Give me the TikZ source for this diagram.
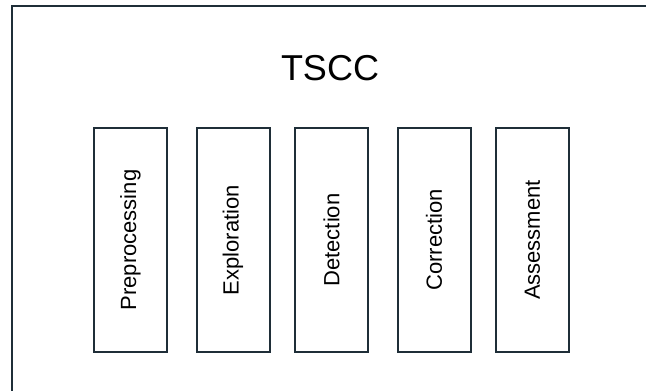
\documentclass[tikz,border=0pt]{standalone}
\usepackage{fontspec}
\setmainfont{Liberation Sans}
\definecolor{edge}{HTML}{1F2E38}
\begin{document}
\begin{tikzpicture}[x=1pt,y=-1pt,
  stagebox/.style={draw=edge,line width=2pt,minimum width=73pt,minimum height=224pt,inner sep=0pt},
  stagelabel/.style={rotate=90,font=\fontsize{22}{26}\selectfont,text=black}]
\useasboundingbox (0,0) rectangle (646,391);
\fill[white] (0,0) rectangle (646,391);
\coordinate (fbl) at (12,392);
\coordinate (ftl) at (12,6);
\coordinate (ftr) at (647,6);
\draw[edge,line width=2pt] (fbl) -- (ftl) -- (ftr);
\node[anchor=base,font=\fontsize{36}{40}\selectfont] (title) at (330,80) {TSCC};
\node[stagebox] (b1) at (130.5,240) {};
\node[stagebox] (b2) at (233,240) {};
\node[stagebox] (b3) at (331.5,240) {};
\node[stagebox] (b4) at (434,240) {};
\node[stagebox] (b5) at (532.5,240) {};
\node[stagelabel] (t1) at (b1) {Preprocessing};
\node[stagelabel] (t2) at (b2) {Exploration};
\node[stagelabel] (t3) at (b3) {Detection};
\node[stagelabel] (t4) at (b4) {Correction};
\node[stagelabel] (t5) at (b5) {Assessment};
\end{tikzpicture}
\end{document}
